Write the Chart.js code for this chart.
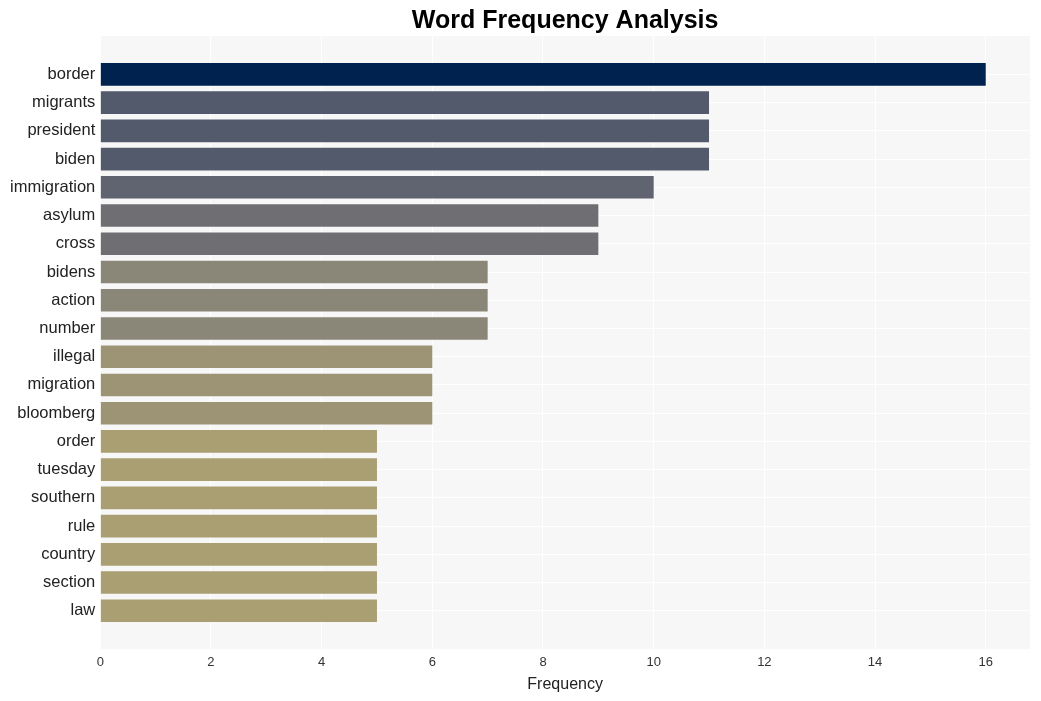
<!doctype html>
<html>

<head>
    <title>Word Frequency Analysis</title>
    <script src="https://cdn.jsdelivr.net/npm/chart.js"></script>
</head>

<style>
    body {
        margin: 0;
        background-color: #fff;
    }

    div {
        width: 1041px;
        height: 701px;
    }
</style>

<body>

    <div>
        <canvas id="palavras"></canvas>
    </div>

    <script>

        var palavras = ['border', 'migrants', 'president', 'biden', 'immigration', 'asylum', 'cross', 'bidens', 'action', 'number',
            'illegal', 'migration', 'bloomberg', 'order', 'tuesday', 'southern', 'rule', 'country', 'section', 'law'];
        var frequencias = [16, 11, 11, 11, 10, 9, 9, 7, 7, 7, 6, 6, 6, 5, 5, 5, 5, 5, 5, 5];
        var marcasX = [0, 2, 4, 6, 8, 10, 12, 14, 16];

        // cor por valor (escala tipo cividis)
        var cores = { 16: '#00224e', 11: '#535a6c', 10: '#606370', 9: '#6f6f73', 7: '#8a8678', 6: '#9d9476', 5: '#aa9f73' };

        var fundo = {
            id: 'fundo',
            beforeDraw(chart) {
                var a = chart.chartArea;
                var ctx = chart.ctx;
                ctx.save();
                ctx.fillStyle = '#f7f7f7';
                ctx.fillRect(a.left, a.top, a.right - a.left, a.bottom - a.top);
                ctx.restore();
            }
        };

        var grafico = new Chart(document.getElementById('palavras').getContext('2d'), {
            type: 'bar',
            data: {
                datasets: [{
                    data: frequencias.map((v, i) => ({ x: v, y: i })),
                    backgroundColor: frequencias.map(v => cores[v]),
                    barPercentage: 0.8,
                    categoryPercentage: 1
                }]
            },
            plugins: [fundo],
            options: {
                indexAxis: 'y',
                responsive: true,
                maintainAspectRatio: false,
                animation: false,
                layout: {
                    padding: { left: 5, right: 11, bottom: 7 }
                },
                plugins: {
                    legend: { display: false },
                    tooltip: { enabled: false },
                    title: {
                        display: true,
                        text: 'Word Frequency Analysis',
                        fullSize: false,
                        color: '#000',
                        font: { family: 'Liberation Sans', size: 25, weight: 'bold' },
                        padding: { top: 6, bottom: 0 }
                    }
                },
                scales: {
                    x: {
                        type: 'linear',
                        min: 0,
                        max: 16.8,
                        afterBuildTicks: s => { s.ticks = marcasX.map(v => ({ value: v })); },
                        grid: { color: '#ffffff', lineWidth: 1, drawTicks: false },
                        border: { display: false },
                        ticks: {
                            color: '#333',
                            padding: 5,
                            font: { family: 'Liberation Sans', size: 13 }
                        },
                        title: {
                            display: true,
                            text: 'Frequency',
                            color: '#222',
                            padding: { top: 0, bottom: 0 },
                            font: { family: 'Liberation Sans', size: 16 }
                        }
                    },
                    y: {
                        type: 'linear',
                        reverse: true,
                        offset: false,
                        min: -1.36,
                        max: 20.36,
                        afterBuildTicks: s => { s.ticks = palavras.map((p, i) => ({ value: i })); },
                        grid: { color: '#ffffff', lineWidth: 1, drawTicks: false, offset: false },
                        border: { display: false },
                        ticks: {
                            color: '#222',
                            padding: 5,
                            autoSkip: false,
                            callback: v => palavras[v],
                            font: { family: 'Liberation Sans', size: 16.5 }
                        }
                    }
                }
            }
        });

    </script>
</body>

</html>
